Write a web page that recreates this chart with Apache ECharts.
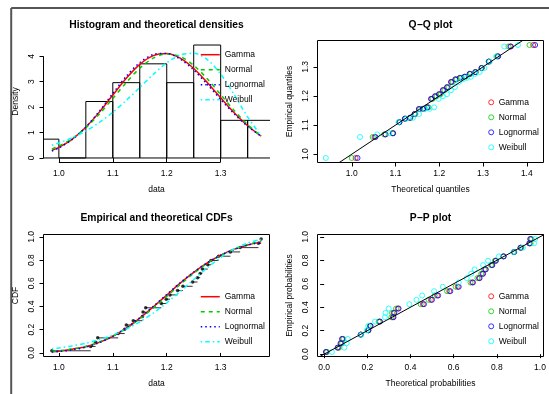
<!DOCTYPE html>
<html>
<head>
<meta charset="utf-8">
<script src="https://cdn.jsdelivr.net/npm/echarts@6/dist/echarts.min.js"></script>
<style>
  html, body { margin: 0; padding: 0; background: #fff; }
  #chart { width: 549px; height: 394px; }
</style>
</head>
<body>
<div id="chart"></div>
<script>
// ---- fitted distributions ----
const distNames = ['Gamma', 'Normal', 'Lognormal', 'Weibull'];

// ---- sorted observations and plotting positions ----
const dataSorted = [0.987, 1.059, 1.068, 1.072, 1.110, 1.122, 1.125, 1.138, 1.155, 1.156, 1.161, 1.190, 1.199, 1.206,
  1.220, 1.230, 1.248, 1.257, 1.262, 1.266, 1.276, 1.282, 1.296, 1.318, 1.336, 1.370, 1.375];
const obsProb = [0.0185, 0.0556, 0.0926, 0.1296, 0.1667, 0.2037, 0.2407, 0.2778, 0.3148, 0.3519, 0.3889, 0.4259, 0.4630, 0.5000,
  0.5370, 0.5741, 0.6111, 0.6481, 0.6852, 0.7222, 0.7593, 0.7963, 0.8333, 0.8704, 0.9074, 0.9444, 0.9815];

// ---- histogram ----
const histBreaks = [0.95, 1.00, 1.05, 1.10, 1.15, 1.20, 1.25, 1.30, 1.35, 1.40];
const histDensity = [0.741, 0, 2.222, 2.963, 3.704, 2.963, 4.444, 1.481, 1.481];

// ---- theoretical densities and CDFs on a grid of x ----
const curveX = [0.987, 1.000, 1.025, 1.050, 1.075, 1.100, 1.125, 1.150, 1.175, 1.200, 1.225, 1.250, 1.275, 1.300, 1.325, 1.350, 1.375];
const densGamma     = [0.300, 0.419, 0.744, 1.210, 1.804, 2.475, 3.135, 3.682, 4.025, 4.107, 3.925, 3.520, 2.972, 2.366, 1.780, 1.268, 0.857];
const densNormal    = [0.350, 0.467, 0.770, 1.192, 1.728, 2.343, 2.972, 3.532, 3.931, 4.094, 3.993, 3.645, 3.117, 2.494, 1.868, 1.312, 0.861];
const densLognormal = [0.275, 0.396, 0.731, 1.219, 1.841, 2.540, 3.215, 3.756, 4.071, 4.114, 3.891, 3.459, 2.901, 2.303, 1.736, 1.247, 0.855];
const densWeibull   = [0.501, 0.589, 0.798, 1.065, 1.397, 1.798, 2.265, 2.775, 3.290, 3.745, 4.054, 4.120, 3.873, 3.301, 2.492, 1.615, 0.867];

const cdfGamma     = [0.0097, 0.0143, 0.0325, 0.0530, 0.0906, 0.1439, 0.2143, 0.2995, 0.3963, 0.4984, 0.6014, 0.6936, 0.7749, 0.8416, 0.8933, 0.9304, 0.9569];
const cdfNormal    = [0.0133, 0.0186, 0.0338, 0.0581, 0.0944, 0.1452, 0.2116, 0.2932, 0.3870, 0.4876, 0.5894, 0.6854, 0.7701, 0.8404, 0.8949, 0.9344, 0.9613];
const cdfLognormal = [0.0080, 0.0123, 0.0261, 0.0502, 0.0882, 0.1430, 0.2150, 0.3026, 0.4009, 0.5036, 0.6045, 0.6967, 0.7764, 0.8413, 0.8918, 0.9288, 0.9549];
const cdfWeibull   = [0.0360, 0.0430, 0.0603, 0.0834, 0.1140, 0.1538, 0.2045, 0.2674, 0.3433, 0.4315, 0.5294, 0.6321, 0.7327, 0.8230, 0.8957, 0.9470, 0.9776];

// ---- theoretical quantiles (Q-Q) ----
const qqGamma     = [1.0088, 1.0520, 1.0761, 1.0940, 1.1088, 1.1216, 1.1332, 1.1440, 1.1541, 1.1638, 1.1731, 1.1822, 1.1913, 1.2004,
  1.2094, 1.2187, 1.2280, 1.2377, 1.2478, 1.2585, 1.2701, 1.2828, 1.2968, 1.3134, 1.3339, 1.3620, 1.4147];
const qqNormal    = [0.9999, 1.0478, 1.0739, 1.0931, 1.1088, 1.1223, 1.1344, 1.1456, 1.1561, 1.1660, 1.1755, 1.1848, 1.1939, 1.2030,
  1.2121, 1.2212, 1.2305, 1.2400, 1.2499, 1.2604, 1.2716, 1.2837, 1.2972, 1.3129, 1.3321, 1.3582, 1.4061];
const qqLognormal = [1.0132, 1.0543, 1.0774, 1.0946, 1.1090, 1.1214, 1.1328, 1.1434, 1.1533, 1.1629, 1.1721, 1.1811, 1.1901, 1.1991,
  1.2081, 1.2174, 1.2267, 1.2365, 1.2467, 1.2575, 1.2693, 1.2822, 1.2965, 1.3135, 1.3346, 1.3638, 1.4191];
const qqWeibull   = [0.9408, 1.0189, 1.0583, 1.0856, 1.1069, 1.1247, 1.1400, 1.1537, 1.1661, 1.1776, 1.1883, 1.1985, 1.2083, 1.2177,
  1.2269, 1.2359, 1.2449, 1.2539, 1.2630, 1.2723, 1.2820, 1.2922, 1.3032, 1.3154, 1.3298, 1.3485, 1.3798];

// ---- theoretical probabilities (P-P) ----
const ppGamma     = [0.0097, 0.0649, 0.0785, 0.0853, 0.1701, 0.2050, 0.2143, 0.2570, 0.3182, 0.3221, 0.3413, 0.4574, 0.4944, 0.5231,
  0.5797, 0.6188, 0.6858, 0.7170, 0.7334, 0.7464, 0.7770, 0.7942, 0.8310, 0.8794, 0.9107, 0.9523, 0.9569];
const ppNormal    = [0.0133, 0.0697, 0.0829, 0.0893, 0.1698, 0.2027, 0.2116, 0.2524, 0.3110, 0.3146, 0.3332, 0.4471, 0.4836, 0.5124,
  0.5695, 0.6091, 0.6780, 0.7102, 0.7277, 0.7412, 0.7731, 0.7913, 0.8302, 0.8812, 0.9140, 0.9568, 0.9613];
const ppLognormal = [0.0080, 0.0621, 0.0759, 0.0828, 0.1697, 0.2055, 0.2150, 0.2588, 0.3214, 0.3253, 0.3449, 0.4625, 0.4996, 0.5283,
  0.5847, 0.6236, 0.6897, 0.7204, 0.7366, 0.7492, 0.7791, 0.7960, 0.8320, 0.8790, 0.9096, 0.9504, 0.9549];
const ppWeibull   = [0.0360, 0.0935, 0.1046, 0.1099, 0.1727, 0.1978, 0.2045, 0.2356, 0.2816, 0.2845, 0.2993, 0.3948, 0.4278, 0.4542,
  0.5093, 0.5497, 0.6239, 0.6609, 0.6812, 0.6973, 0.7366, 0.7594, 0.8096, 0.8775, 0.9210, 0.9729, 0.9776];

// ---- axis ranges and tick labels ----
const rangeDataX = [0.9715, 1.3905];
const rangeDensY = [-0.1778, 4.622];
const rangeCdfY  = [-0.0309, 1.0204];
const rangeQQX   = [0.9217, 1.4382];
const rangeQQY   = [0.9715, 1.3905];
const rangePPX   = [-0.0308, 1.0164];
const rangePPY   = [-0.0200, 1.0200];
const ticksDataX = [1.0, 1.1, 1.2, 1.3];
const ticksDensY = [0, 1, 2, 3, 4];
const ticksQQX   = [1.0, 1.1, 1.2, 1.3, 1.4];
const ticksQQY   = [1.0, 1.1, 1.2, 1.3];
const ticksProb  = [0.0, 0.2, 0.4, 0.6, 0.8, 1.0];
const identityQQ = [[0.9, 0.9], [1.5, 1.5]];
const identityPP = [[-0.1, -0.1], [1.1, 1.1]];

// ---- styling ----
const FONT = '"Liberation Sans", Arial, Helvetica, sans-serif';
const colors = ['#FF0000', '#00CD00', '#0000FF', '#00FFFF'];
const dashes = ['solid', [4, 4], [1.5, 3], [1.5, 3, 4.5, 3]];
const fmt1 = v => Number(v).toFixed(1);
const fmt0 = v => String(Math.round(v));

const zip = (xs, ys) => xs.map((x, i) => [x, ys[i]]);
const densCurves = [densGamma, densNormal, densLognormal, densWeibull];
const cdfCurves  = [cdfGamma, cdfNormal, cdfLognormal, cdfWeibull];
const qqTheo     = [qqGamma, qqNormal, qqLognormal, qqWeibull];
const ppTheo     = [ppGamma, ppNormal, ppLognormal, ppWeibull];

function makeAxis(gi, range, ticks, fmt, name, vertical) {
  return {
    type: 'value', gridIndex: gi, min: range[0], max: range[1],
    name: name, nameLocation: 'middle', nameGap: vertical ? 23 : 23,
    nameTextStyle: { fontSize: 8.5, color: '#000', fontFamily: FONT },
    axisLine: { show: false },
    splitLine: { show: false },
    axisTick: { show: true, inside: false, length: 4, customValues: ticks, lineStyle: { color: '#000', width: 1 } },
    axisLabel: { show: true, customValues: ticks, formatter: fmt, fontSize: 8.5, color: '#000',
      fontFamily: FONT, margin: 7, rotate: vertical ? 90 : 0 }
  };
}

const grids = [
  { left: 43.5, top: 40.5, width: 226, height: 122 },
  { left: 317.5, top: 40.5, width: 226, height: 122, show: true, borderColor: '#000', borderWidth: 1 },
  { left: 43.5, top: 234.5, width: 226, height: 122, show: true, borderColor: '#000', borderWidth: 1 },
  { left: 317.5, top: 234.5, width: 226, height: 122, show: true, borderColor: '#000', borderWidth: 1 }
];

const xAxes = [
  makeAxis(0, rangeDataX, ticksDataX, fmt1, 'data', false),
  makeAxis(1, rangeQQX, ticksQQX, fmt1, 'Theoretical quantiles', false),
  makeAxis(2, rangeDataX, ticksDataX, fmt1, 'data', false),
  makeAxis(3, rangePPX, ticksProb, fmt1, 'Theoretical probabilities', false)
];
const yAxes = [
  makeAxis(0, rangeDensY, ticksDensY, fmt0, 'Density', true),
  makeAxis(1, rangeQQY, ticksQQY, fmt1, 'Empirical quantiles', true),
  makeAxis(2, rangeCdfY, ticksProb, fmt1, 'CDF', true),
  makeAxis(3, rangePPY, ticksProb, fmt1, 'Empirical probabilities', true)
];

const series = [];

// histogram bars (clipped to the plotting region)
series.push({
  type: 'custom', name: 'hist', xAxisIndex: 0, yAxisIndex: 0, clip: true, silent: true, z: 1,
  data: histDensity.map((h, i) => [histBreaks[i], histBreaks[i + 1], h]),
  encode: { x: [0, 1], y: 2 },
  renderItem: (params, api) => {
    const a = api.coord([api.value(0), api.value(2)]);
    const b = api.coord([api.value(1), 0]);
    return { type: 'rect', shape: { x: a[0], y: a[1], width: b[0] - a[0], height: b[1] - a[1] },
      style: { fill: 'none', stroke: '#000', lineWidth: 1 } };
  }
});

// R-style axis lines for the histogram panel (span first to last tick)
series.push({
  type: 'line', xAxisIndex: 0, yAxisIndex: 0, clip: false, silent: true, symbol: 'none',
  data: [[ticksDataX[0], rangeDensY[0]], [ticksDataX[ticksDataX.length - 1], rangeDensY[0]]],
  lineStyle: { color: '#000', width: 1 }
});
series.push({
  type: 'line', xAxisIndex: 0, yAxisIndex: 0, clip: false, silent: true, symbol: 'none',
  data: [[rangeDataX[0], ticksDensY[0]], [rangeDataX[0], ticksDensY[ticksDensY.length - 1]]],
  lineStyle: { color: '#000', width: 1 }
});

// density curves
distNames.forEach((n, k) => {
  series.push({
    type: 'line', name: n + '|d', xAxisIndex: 0, yAxisIndex: 0, symbol: 'none', smooth: 0.3, z: 3,
    data: zip(curveX, densCurves[k]),
    lineStyle: { color: colors[k], width: 1.5, type: dashes[k] }, itemStyle: { color: colors[k] }
  });
});

// Q-Q points
distNames.forEach((n, k) => {
  series.push({
    type: 'scatter', name: n + '|q', xAxisIndex: 1, yAxisIndex: 1, symbol: 'circle', symbolSize: 5, z: 2,
    data: zip(qqTheo[k], dataSorted),
    itemStyle: { color: 'rgba(0,0,0,0)', borderColor: colors[k], borderWidth: 1 }
  });
});
series.push({
  type: 'line', xAxisIndex: 1, yAxisIndex: 1, symbol: 'none', silent: true, z: 4,
  data: identityQQ, lineStyle: { color: '#000', width: 1 }
});

// empirical CDF: horizontal steps and points
series.push({
  type: 'custom', xAxisIndex: 2, yAxisIndex: 2, silent: true, z: 2,
  data: dataSorted.slice(0, -1).map((x, i) => [x, dataSorted[i + 1], obsProb[i]]),
  encode: { x: [0, 1], y: 2 },
  renderItem: (params, api) => {
    const a = api.coord([api.value(0), api.value(2)]);
    const b = api.coord([api.value(1), api.value(2)]);
    return { type: 'line', shape: { x1: a[0], y1: a[1], x2: b[0], y2: b[1] },
      style: { stroke: '#333', lineWidth: 1 } };
  }
});
series.push({
  type: 'scatter', xAxisIndex: 2, yAxisIndex: 2, symbol: 'circle', symbolSize: 3.5, silent: true, z: 2,
  data: zip(dataSorted, obsProb), itemStyle: { color: '#000' }
});
distNames.forEach((n, k) => {
  series.push({
    type: 'line', name: n + '|c', xAxisIndex: 2, yAxisIndex: 2, symbol: 'none', smooth: 0.3, z: 3,
    data: zip(curveX, cdfCurves[k]),
    lineStyle: { color: colors[k], width: 1.5, type: dashes[k] }, itemStyle: { color: colors[k] }
  });
});

// P-P points
distNames.forEach((n, k) => {
  series.push({
    type: 'scatter', name: n + '|p', xAxisIndex: 3, yAxisIndex: 3, symbol: 'circle', symbolSize: 5, z: 2,
    data: zip(ppTheo[k], obsProb),
    itemStyle: { color: 'rgba(0,0,0,0)', borderColor: colors[k], borderWidth: 1 }
  });
});
series.push({
  type: 'line', xAxisIndex: 3, yAxisIndex: 3, symbol: 'none', silent: true, z: 4,
  data: identityPP, lineStyle: { color: '#000', width: 1 }
});

// legends: line keys for the density/CDF panels, open circles for Q-Q/P-P
function lineLegend(suffix, left, top) {
  return {
    orient: 'vertical', left: left, top: top, padding: 0, selectedMode: false,
    itemWidth: 19, itemHeight: 10, itemGap: 5,
    data: distNames.map((n, k) => ({
      name: n + suffix,
      itemStyle: { opacity: 0 },
      lineStyle: { color: colors[k], width: 1.5, type: dashes[k] }
    })),
    formatter: name => name.split('|')[0],
    textStyle: { fontSize: 8.5, color: '#000', fontFamily: FONT, lineHeight: 10 }
  };
}
function pointLegend(suffix, left, top) {
  return {
    orient: 'vertical', left: left, top: top, padding: 0, selectedMode: false,
    itemWidth: 5, itemHeight: 5, itemGap: 5,
    data: distNames.map((n, k) => ({
      name: n + suffix, icon: 'circle',
      itemStyle: { color: 'rgba(0,0,0,0)', borderColor: colors[k], borderWidth: 1 }
    })),
    formatter: name => name.split('|')[0],
    textStyle: { fontSize: 8.5, color: '#000', fontFamily: FONT, lineHeight: 10 }
  };
}

function makeTitle(text, cx, top) {
  return { text: text, left: cx, top: top, textAlign: 'center', padding: 0,
    textStyle: { fontSize: 10.3, fontWeight: 'bold', color: '#000', fontFamily: FONT } };
}

const chart = echarts.init(document.getElementById('chart'), null, { renderer: 'canvas' });
chart.setOption({
  animation: false,
  backgroundColor: '#fff',
  title: [
    makeTitle('Histogram and theoretical densities', 156.5, 20),
    makeTitle('Q\u2212Q plot', 430.5, 20),
    makeTitle('Empirical and theoretical CDFs', 156.5, 213.5),
    makeTitle('P\u2212P plot', 430.5, 213.5)
  ],
  legend: [
    lineLegend('|d', 200, 49.7),
    pointLegend('|q', 488.2, 97.3),
    lineLegend('|c', 200, 291.7),
    pointLegend('|p', 488.2, 291.3)
  ],
  grid: grids,
  xAxis: xAxes,
  yAxis: yAxes,
  series: series,
  graphic: [
    { type: 'line', shape: { x1: 11.2, y1: 8, x2: 549, y2: 8 }, style: { stroke: '#555', lineWidth: 2 }, silent: true },
    { type: 'line', shape: { x1: 11.2, y1: 8, x2: 11.2, y2: 394 }, style: { stroke: '#555', lineWidth: 2 }, silent: true }
  ]
});
</script>
</body>
</html>
